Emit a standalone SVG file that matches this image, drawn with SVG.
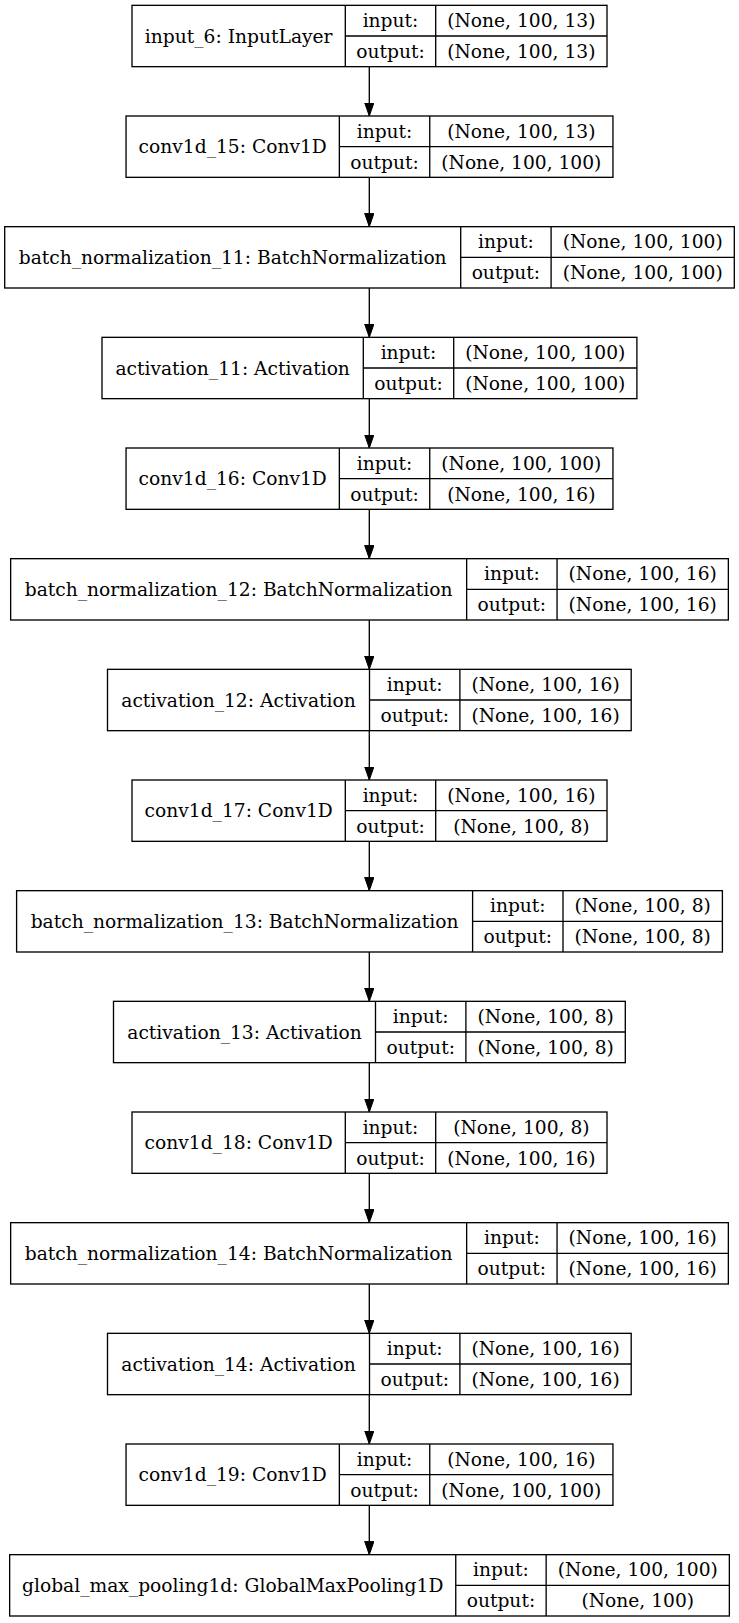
<svg xmlns="http://www.w3.org/2000/svg" width="739" height="1623" viewBox="0 0 739 1623">
  <style>
    .box { fill: #ffffff; stroke: #000000; stroke-width: 1.33; }
    .sep { stroke: #000000; stroke-width: 1.33; fill: none; }
    .edge { stroke: #000000; stroke-width: 1.33; fill: none; }
    text { font-family: "DejaVu Serif", "Liberation Serif", serif; font-size: 18.67px; fill: #000000; text-anchor: middle; }
  </style>
  <defs>
    <marker id="arrow" markerUnits="userSpaceOnUse" markerWidth="14" markerHeight="10" refX="13.33" refY="4.67" orient="auto">
      <polygon points="0,0 13.33,4.67 0,9.33" fill="#000000" stroke="#000000" stroke-width="1"/>
    </marker>
  </defs>
  <rect width="739" height="1623" fill="#ffffff"/>

  <!-- connectors -->
  <g id="edges">
    <path class="edge" marker-end="url(#arrow)" d="M369.3,66.67 V116"/>
    <path class="edge" marker-end="url(#arrow)" d="M369.3,177.33 V226.67"/>
    <path class="edge" marker-end="url(#arrow)" d="M369.3,288 V337.33"/>
    <path class="edge" marker-end="url(#arrow)" d="M369.3,398.67 V448"/>
    <path class="edge" marker-end="url(#arrow)" d="M369.3,509.33 V558.67"/>
    <path class="edge" marker-end="url(#arrow)" d="M369.3,620 V669.33"/>
    <path class="edge" marker-end="url(#arrow)" d="M369.3,730.67 V780"/>
    <path class="edge" marker-end="url(#arrow)" d="M369.3,841.33 V890.67"/>
    <path class="edge" marker-end="url(#arrow)" d="M369.3,952 V1001.33"/>
    <path class="edge" marker-end="url(#arrow)" d="M369.3,1062.67 V1112"/>
    <path class="edge" marker-end="url(#arrow)" d="M369.3,1173.33 V1222.67"/>
    <path class="edge" marker-end="url(#arrow)" d="M369.3,1284 V1333.33"/>
    <path class="edge" marker-end="url(#arrow)" d="M369.3,1394.67 V1444"/>
    <path class="edge" marker-end="url(#arrow)" d="M369.3,1505.33 V1554.67"/>
  </g>

  <!-- layer nodes: name | input/output | shapes -->
  <g id="input_6" transform="translate(0,5.33)">
    <rect class="box" x="132" y="0" width="475" height="61.33"/>
    <path class="sep" d="M345.3,0 V61.33 M435.7,0 V61.33 M345.3,30.67 H607"/>
    <text x="238.65" y="37.2">input_6: InputLayer</text>
    <text x="390.5" y="21.8">input:</text>
    <text x="390.5" y="52.5">output:</text>
    <text x="521.35" y="21.8">(None, 100, 13)</text>
    <text x="521.35" y="52.5">(None, 100, 13)</text>
  </g>

  <g id="conv1d_15" transform="translate(0,116)">
    <rect class="box" x="126.05" y="0" width="486.9" height="61.33"/>
    <path class="sep" d="M339.35,0 V61.33 M429.75,0 V61.33 M339.35,30.67 H612.95"/>
    <text x="232.7" y="37.2">conv1d_15: Conv1D</text>
    <text x="384.55" y="21.8">input:</text>
    <text x="384.55" y="52.5">output:</text>
    <text x="521.35" y="21.8">(None, 100, 13)</text>
    <text x="521.35" y="52.5">(None, 100, 100)</text>
  </g>

  <g id="batch_normalization_11" transform="translate(0,226.67)">
    <rect class="box" x="4.7" y="0" width="729.6" height="61.33"/>
    <path class="sep" d="M460.7,0 V61.33 M551.1,0 V61.33 M460.7,30.67 H734.3"/>
    <text x="232.7" y="37.2">batch_normalization_11: BatchNormalization</text>
    <text x="505.9" y="21.8">input:</text>
    <text x="505.9" y="52.5">output:</text>
    <text x="642.7" y="21.8">(None, 100, 100)</text>
    <text x="642.7" y="52.5">(None, 100, 100)</text>
  </g>

  <g id="activation_11" transform="translate(0,337.33)">
    <rect class="box" x="102" y="0" width="534.9" height="61.33"/>
    <path class="sep" d="M363.3,0 V61.33 M453.7,0 V61.33 M363.3,30.67 H636.9"/>
    <text x="232.65" y="37.2">activation_11: Activation</text>
    <text x="408.5" y="21.8">input:</text>
    <text x="408.5" y="52.5">output:</text>
    <text x="545.3" y="21.8">(None, 100, 100)</text>
    <text x="545.3" y="52.5">(None, 100, 100)</text>
  </g>

  <g id="conv1d_16" transform="translate(0,448)">
    <rect class="box" x="126.05" y="0" width="486.9" height="61.33"/>
    <path class="sep" d="M339.35,0 V61.33 M429.75,0 V61.33 M339.35,30.67 H612.95"/>
    <text x="232.7" y="37.2">conv1d_16: Conv1D</text>
    <text x="384.55" y="21.8">input:</text>
    <text x="384.55" y="52.5">output:</text>
    <text x="521.35" y="21.8">(None, 100, 100)</text>
    <text x="521.35" y="52.5">(None, 100, 16)</text>
  </g>

  <g id="batch_normalization_12" transform="translate(0,558.67)">
    <rect class="box" x="10.65" y="0" width="717.7" height="61.33"/>
    <path class="sep" d="M466.65,0 V61.33 M557.05,0 V61.33 M466.65,30.67 H728.35"/>
    <text x="238.65" y="37.2">batch_normalization_12: BatchNormalization</text>
    <text x="511.85" y="21.8">input:</text>
    <text x="511.85" y="52.5">output:</text>
    <text x="642.7" y="21.8">(None, 100, 16)</text>
    <text x="642.7" y="52.5">(None, 100, 16)</text>
  </g>

  <g id="activation_12" transform="translate(0,669.33)">
    <rect class="box" x="107.5" y="0" width="523.7" height="61.33"/>
    <path class="sep" d="M369.5,0 V61.33 M459.9,0 V61.33 M369.5,30.67 H631.2"/>
    <text x="238.5" y="37.2">activation_12: Activation</text>
    <text x="414.7" y="21.8">input:</text>
    <text x="414.7" y="52.5">output:</text>
    <text x="545.55" y="21.8">(None, 100, 16)</text>
    <text x="545.55" y="52.5">(None, 100, 16)</text>
  </g>

  <g id="conv1d_17" transform="translate(0,780)">
    <rect class="box" x="132" y="0" width="475" height="61.33"/>
    <path class="sep" d="M345.3,0 V61.33 M435.7,0 V61.33 M345.3,30.67 H607"/>
    <text x="238.65" y="37.2">conv1d_17: Conv1D</text>
    <text x="390.5" y="21.8">input:</text>
    <text x="390.5" y="52.5">output:</text>
    <text x="521.35" y="21.8">(None, 100, 16)</text>
    <text x="521.35" y="52.5">(None, 100, 8)</text>
  </g>

  <g id="batch_normalization_13" transform="translate(0,890.67)">
    <rect class="box" x="16.6" y="0" width="705.8" height="61.33"/>
    <path class="sep" d="M472.6,0 V61.33 M563,0 V61.33 M472.6,30.67 H722.4"/>
    <text x="244.6" y="37.2">batch_normalization_13: BatchNormalization</text>
    <text x="517.8" y="21.8">input:</text>
    <text x="517.8" y="52.5">output:</text>
    <text x="642.7" y="21.8">(None, 100, 8)</text>
    <text x="642.7" y="52.5">(None, 100, 8)</text>
  </g>

  <g id="activation_13" transform="translate(0,1001.33)">
    <rect class="box" x="113.5" y="0" width="511.8" height="61.33"/>
    <path class="sep" d="M375.5,0 V61.33 M465.9,0 V61.33 M375.5,30.67 H625.3"/>
    <text x="244.5" y="37.2">activation_13: Activation</text>
    <text x="420.7" y="21.8">input:</text>
    <text x="420.7" y="52.5">output:</text>
    <text x="545.6" y="21.8">(None, 100, 8)</text>
    <text x="545.6" y="52.5">(None, 100, 8)</text>
  </g>

  <g id="conv1d_18" transform="translate(0,1112)">
    <rect class="box" x="132" y="0" width="475" height="61.33"/>
    <path class="sep" d="M345.3,0 V61.33 M435.7,0 V61.33 M345.3,30.67 H607"/>
    <text x="238.65" y="37.2">conv1d_18: Conv1D</text>
    <text x="390.5" y="21.8">input:</text>
    <text x="390.5" y="52.5">output:</text>
    <text x="521.35" y="21.8">(None, 100, 8)</text>
    <text x="521.35" y="52.5">(None, 100, 16)</text>
  </g>

  <g id="batch_normalization_14" transform="translate(0,1222.67)">
    <rect class="box" x="10.65" y="0" width="717.7" height="61.33"/>
    <path class="sep" d="M466.65,0 V61.33 M557.05,0 V61.33 M466.65,30.67 H728.35"/>
    <text x="238.65" y="37.2">batch_normalization_14: BatchNormalization</text>
    <text x="511.85" y="21.8">input:</text>
    <text x="511.85" y="52.5">output:</text>
    <text x="642.7" y="21.8">(None, 100, 16)</text>
    <text x="642.7" y="52.5">(None, 100, 16)</text>
  </g>

  <g id="activation_14" transform="translate(0,1333.33)">
    <rect class="box" x="107.5" y="0" width="523.7" height="61.33"/>
    <path class="sep" d="M369.5,0 V61.33 M459.9,0 V61.33 M369.5,30.67 H631.2"/>
    <text x="238.5" y="37.2">activation_14: Activation</text>
    <text x="414.7" y="21.8">input:</text>
    <text x="414.7" y="52.5">output:</text>
    <text x="545.55" y="21.8">(None, 100, 16)</text>
    <text x="545.55" y="52.5">(None, 100, 16)</text>
  </g>

  <g id="conv1d_19" transform="translate(0,1444)">
    <rect class="box" x="126.05" y="0" width="486.9" height="61.33"/>
    <path class="sep" d="M339.35,0 V61.33 M429.75,0 V61.33 M339.35,30.67 H612.95"/>
    <text x="232.7" y="37.2">conv1d_19: Conv1D</text>
    <text x="384.55" y="21.8">input:</text>
    <text x="384.55" y="52.5">output:</text>
    <text x="521.35" y="21.8">(None, 100, 16)</text>
    <text x="521.35" y="52.5">(None, 100, 100)</text>
  </g>

  <g id="global_max_pooling1d" transform="translate(0,1554.67)">
    <rect class="box" x="9.65" y="0" width="719.7" height="61.33"/>
    <path class="sep" d="M455.75,0 V61.33 M546.15,0 V61.33 M455.75,30.67 H729.35"/>
    <text x="232.7" y="37.2">global_max_pooling1d: GlobalMaxPooling1D</text>
    <text x="500.95" y="21.8">input:</text>
    <text x="500.95" y="52.5">output:</text>
    <text x="637.75" y="21.8">(None, 100, 100)</text>
    <text x="637.75" y="52.5">(None, 100)</text>
  </g>
</svg>
